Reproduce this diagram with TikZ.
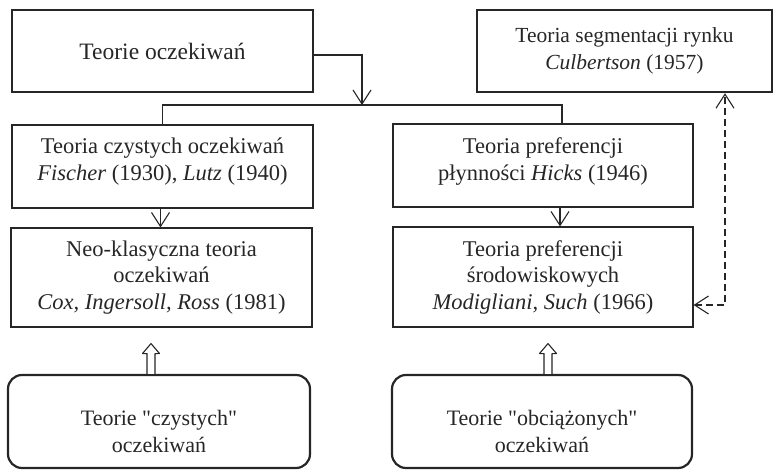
\documentclass[tikz,border=0pt]{standalone}
\usepackage{fontspec}
\setmainfont{Liberation Serif}[Ligatures=TeXOff]
\usetikzlibrary{arrows.meta,calc}
\definecolor{ink}{HTML}{262626}
\begin{document}
\begin{tikzpicture}[x=1pt,y=-1pt,
  every node/.style={font=\fontsize{22.5}{26.5}\selectfont, text=ink},
  box/.style={draw=ink, line width=1.1pt, inner sep=0pt, align=center},
  thickbox/.style={box, line width=2.4pt},
  roundbox/.style={box, line width=2.2pt, rounded corners=14pt},
  txt/.style={align=center, inner sep=0pt},
  conn/.style={draw=ink, line width=1.1pt},
  vtip/.style={-{Straight Barb[length=14pt,width=18pt,line width=1.1pt]}},
  vtips/.style={{Straight Barb[length=14pt,width=18pt,line width=1.1pt]}-{Straight Barb[length=14pt,width=18pt,line width=1.1pt]}},
  dsh/.style={dash pattern=on 7pt off 4pt},
  hollow/.style={draw=ink, line width=1.1pt, fill=white, line join=round}
]
\useasboundingbox (0,0) rectangle (776,473);

% boxes
\node[thickbox, minimum width=301pt, minimum height=82pt, font=\fontsize{23.5}{26.5}\selectfont] (top) at (162.5,51) {Teorie oczekiwań};
\node[thickbox, minimum width=295pt, minimum height=82pt, font=\fontsize{21.5}{26.5}\selectfont] (culb) at (624.5,51) {Teoria segmentacji rynku\\\textit{Culbertson} (1957)};
\node[box, minimum width=301pt, minimum height=83pt] (czyst) at (162.5,166.5) {};
\node[txt] (czystt) at ($(czyst.center)+(0,-5)$) {Teoria czystych oczekiwań\\\textit{Fischer} (1930), \textit{Lutz} (1940)};
\node[box, minimum width=300pt, minimum height=83pt] (plyn) at (543,165.5) {};
\node[txt] (plynt) at ($(plyn.center)+(0,-4)$) {Teoria preferencji\\płynności \textit{Hicks} (1946)};
\node[box, minimum width=301pt, minimum height=99pt] (neo) at (161.5,277.5) {Neo-klasyczna teoria\\oczekiwań\\\textit{Cox, Ingersoll, Ross} (1981)};
\node[box, minimum width=300pt, minimum height=100pt] (srod) at (543,277) {Teoria preferencji\\środowiskowych\\\textit{Modigliani, Such} (1966)};
\node[roundbox, minimum width=302pt, minimum height=93pt] (lrb) at (159,421.5) {};
\node[txt, font=\fontsize{22}{26.5}\selectfont] (lrbt) at ($(lrb.center)+(0,10)$) {Teorie "czystych"\\oczekiwań};
\node[roundbox, minimum width=300pt, minimum height=93pt] (rrb) at (542,421.5) {};
\node[txt, font=\fontsize{22}{26.5}\selectfont] (rrbt) at ($(rrb.center)+(0,10)$) {Teorie "obciążonych"\\oczekiwań};

% top connector
\coordinate (split) at (362,105);
\coordinate (rdrop) at ($(plyn.north)+(19,0)$);
\draw[conn, vtip] ($(top.east)+(0,4)$) -| (split);
\draw[conn] (czyst.north) |- (split) -| (rdrop);

% middle arrows
\coordinate (lm) at ($(czyst.south)+(-2,0)$);
\draw[conn, vtip] (lm) -- (lm |- neo.north);
\coordinate (rm) at ($(plyn.south)+(17,0)$);
\draw[conn, vtip] (rm) -- (rm |- srod.north);

% dashed connector
\coordinate (dA) at ($(srod.east)+(0,28)$);
\coordinate (dB) at ($(culb.south)+(100.5,0)$);
\draw[conn, dsh, vtips] (dA) -| (dB);

% hollow arrows
\coordinate (la) at ($(lrb.north)+(-8,0)$);
\coordinate (lb) at ($(la |- neo.south)+(0,16)$);
\draw[hollow] ($(la)+(-4,0)$) -- ($(lb)+(-4,10)$) -- ($(lb)+(-8.5,10)$) -- (lb) -- ($(lb)+(8.5,10)$) -- ($(lb)+(4,10)$) -- ($(la)+(4,0)$);
\coordinate (ra) at ($(rrb.north)+(6,0)$);
\coordinate (rb) at ($(ra |- srod.south)+(0,16)$);
\draw[hollow] ($(ra)+(-4,0)$) -- ($(rb)+(-4,10)$) -- ($(rb)+(-8.5,10)$) -- (rb) -- ($(rb)+(8.5,10)$) -- ($(rb)+(4,10)$) -- ($(ra)+(4,0)$);
\end{tikzpicture}
\end{document}
